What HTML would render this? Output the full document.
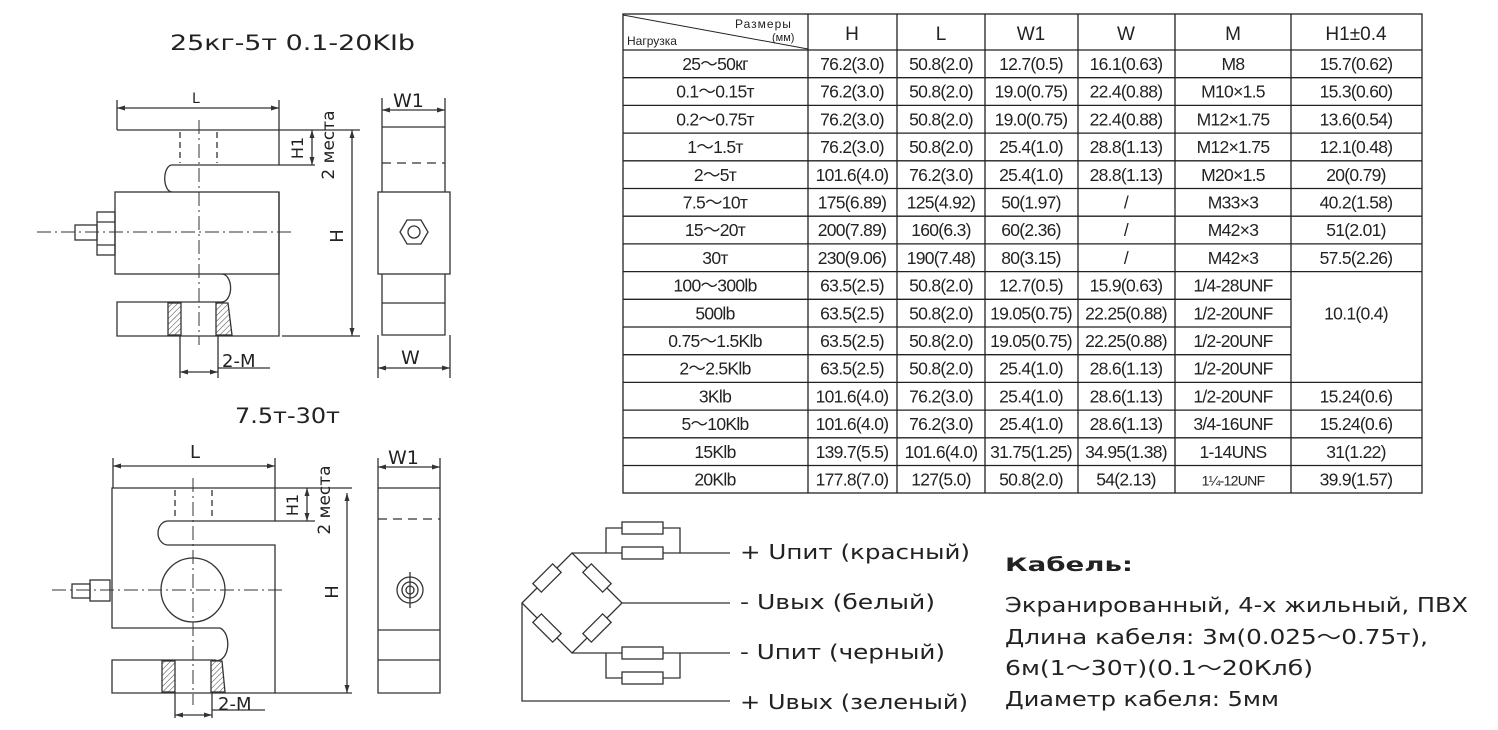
<!DOCTYPE html>
<html><head><meta charset="utf-8"><style>
html,body{margin:0;padding:0;background:#fff;}
svg{display:block;}
text{font-family:"DejaVu Sans","Liberation Sans",sans-serif;fill:#222;}
.t text{font-family:"Liberation Sans","DejaVu Sans",sans-serif;}
</style></head><body>
<svg width="1498" height="730" viewBox="0 0 1498 730" xmlns="http://www.w3.org/2000/svg">
<defs>
<pattern id="h" width="4" height="4" patternUnits="userSpaceOnUse" patternTransform="rotate(45)"><line x1="0" y1="0" x2="0" y2="4" stroke="#444" stroke-width="1"/></pattern>
</defs>
<g stroke="#333" stroke-width="1.3" fill="none">
<path d="M117 130 H279 V165 H172 A7 13 0 0 0 172 192"/>
<rect x="115" y="192" width="164" height="82"/>
<path d="M279 192 V336 H117 V302 H222 A8 13 0 0 0 222 274"/>
<path d="M180 132 V163 M217 132 V163" stroke-dasharray="6 4"/>
<rect x="168" y="303" width="13" height="32" fill="url(#h)"/>
<path d="M216 303 H228 L232 335 H216 Z" fill="url(#h)"/>
<path d="M199 120 V345 M37 232 H292" stroke-dasharray="14 4 2 4" stroke-width="1"/>
<rect x="97" y="212" width="18" height="43"/><path d="M97 222 H115 M97 245 H115"/>
<rect x="75" y="225" width="22" height="15"/>
<path d="M117 100 V130 M279 100 V130 M117 108 H279 M279 130 H360 M279 165 H315 M312 130 V165 M282 336 H360 M352 130 V336"/>
<path d="M180 336 V378 M218 336 V378 M180 372 H218 M218 368 H270"/>
<path d="M382 98 V192 M445 98 V192 M382 110 H445 M382 127 H445"/>
<path d="M382 163 H445" stroke-dasharray="9 6"/>
<rect x="378" y="192" width="72" height="82"/>
<polygon points="428,232 421,244 407,244 400,232 407,220 421,220"/>
<circle cx="414" cy="232" r="6"/>
<path d="M382 274 V335 H445 V274 M382 303 H445 M378 335 V378 M450 335 V378 M378 368 H450"/>
<path d="M112 488 H275 V521 H168 A10 12 0 0 0 168 545 H275 V693 H112 V660 H215 A10 16 0 0 0 220 628 H112 Z"/>
<path d="M175 490 V519 M212 490 V519" stroke-dasharray="6 4"/>
<circle cx="193" cy="590" r="32"/>
<rect x="162" y="661" width="13" height="31" fill="url(#h)"/>
<path d="M211 661 H222 L225 692 H211 Z" fill="url(#h)"/>
<path d="M193 478 V705 M52 590 H282" stroke-dasharray="14 4 2 4" stroke-width="1"/>
<rect x="90" y="580" width="20" height="21"/><rect x="72" y="584" width="18" height="14"/>
<path d="M113 458 V488 M275 458 V488 M113 466 H275 M275 488 H352 M275 521 H315 M307 488 V521 M275 693 H352 M347 493 V693"/>
<path d="M175 693 V718 M212 693 V718 M175 715 H212 M212 710 H265"/>
<path d="M378 458 V693 H440 V458 M378 467 H440 M378 488 H440 M378 630 H440 M378 660 H440"/>
<path d="M378 519 H440" stroke-dasharray="9 6"/>
<circle cx="410" cy="590" r="13"/><circle cx="410" cy="590" r="8"/><circle cx="410" cy="590" r="4"/>
<path d="M410 572 V608"/>
<path d="M522 603 L572 553 L622 603 L572 653 Z M522 603 V701 H730 M572 553 H730 M622 603 H730 M572 653 H730"/>
<path d="M606 553 V528 H680 V553 M606 653 V678 H680 V653"/>
<g fill="#fff">
<rect x="622" y="522" width="41" height="12"/><rect x="622" y="547" width="41" height="12"/>
<rect x="622" y="647" width="41" height="12"/><rect x="622" y="672" width="41" height="12"/>
<rect x="-14" y="-6" width="28" height="12" transform="translate(547 578) rotate(-45)"/>
<rect x="-14" y="-6" width="28" height="12" transform="translate(597 578) rotate(45)"/>
<rect x="-14" y="-6" width="28" height="12" transform="translate(547 628) rotate(45)"/>
<rect x="-14" y="-6" width="28" height="12" transform="translate(597 628) rotate(-45)"/>
</g>
</g>
<g fill="#333">
<path d="M117 108 l8 -2.5 v5z M279 108 l-8 -2.5 v5z M312 130 l-2.5 8 h5z M312 165 l-2.5 -8 h5z M352 130 l-2.5 8 h5z M352 336 l-2.5 -8 h5z M180 372 l8 -2.5 v5z M218 372 l-8 -2.5 v5z M382 110 l8 -2.5 v5z M445 110 l-8 -2.5 v5z M378 368 l8 -2.5 v5z M450 368 l-8 -2.5 v5z"/>
<path d="M113 466 l8 -2.5 v5z M275 466 l-8 -2.5 v5z M307 488 l-2.5 8 h5z M307 521 l-2.5 -8 h5z M347 493 l-2.5 8 h5z M347 693 l-2.5 -8 h5z M175 715 l8 -2.5 v5z M212 715 l-8 -2.5 v5z M378 467 l8 -2.5 v5z M440 467 l-8 -2.5 v5z"/>
</g>
<text x="170" y="50" font-size="21" textLength="245" lengthAdjust="spacingAndGlyphs">25кг-5т  0.1-20KIb</text>
<text x="192" y="103" font-size="14">L</text>
<text x="303" y="148" font-size="16" text-anchor="middle" transform="rotate(-90 303 148)">H1</text>
<text x="334" y="145" font-size="17" text-anchor="middle" transform="rotate(-90 334 145)">2 места</text>
<text x="343" y="236" font-size="18" text-anchor="middle" transform="rotate(-90 343 236)">H</text>
<text x="222" y="367" font-size="18">2-M</text>
<text x="393" y="107" font-size="19">W1</text>
<text x="401" y="364" font-size="19">W</text>
<text x="235" y="423" font-size="21" textLength="105" lengthAdjust="spacingAndGlyphs">7.5т-30т</text>
<text x="190" y="458" font-size="18">L</text>
<text x="298" y="505" font-size="16" text-anchor="middle" transform="rotate(-90 298 505)">H1</text>
<text x="330" y="500" font-size="17" text-anchor="middle" transform="rotate(-90 330 500)">2 места</text>
<text x="338" y="592" font-size="18" text-anchor="middle" transform="rotate(-90 338 592)">H</text>
<text x="218" y="710" font-size="18">2-M</text>
<text x="388" y="464" font-size="19">W1</text>
<g font-size="20">
<text x="740" y="559" textLength="230" lengthAdjust="spacingAndGlyphs">+  Uпит (красный)</text>
<text x="740" y="609" textLength="195" lengthAdjust="spacingAndGlyphs">-  Uвых (белый)</text>
<text x="740" y="659" textLength="205" lengthAdjust="spacingAndGlyphs">-  Uпит (черный)</text>
<text x="740" y="709" textLength="228" lengthAdjust="spacingAndGlyphs">+  Uвых (зеленый)</text>
</g>
<text x="1005" y="571" font-size="19" font-weight="bold" textLength="128" lengthAdjust="spacingAndGlyphs">Кабель:</text>
<g font-size="20">
<text x="1005" y="612" textLength="463" lengthAdjust="spacingAndGlyphs">Экранированный, 4-х жильный, ПВХ</text>
<text x="1005" y="644" textLength="423" lengthAdjust="spacingAndGlyphs">Длина кабеля: 3м(0.025～0.75т),</text>
<text x="1005" y="675" textLength="308" lengthAdjust="spacingAndGlyphs">6м(1～30т)(0.1～20Клб)</text>
<text x="1005" y="706" textLength="274" lengthAdjust="spacingAndGlyphs">Диаметр кабеля: 5мм</text>
</g>
<g stroke="#222" stroke-width="1.3" fill="none">
<rect x="623" y="14" width="799" height="479"/>
<path d="M808 14 V493 M897 14 V493 M985 14 V493 M1078 14 V493 M1175 14 V493 M1291 14 V493"/>
<path d="M623 50 H1422 M623 77.7 H1422 M623 105.4 H1422 M623 133.1 H1422 M623 160.8 H1422 M623 188.5 H1422 M623 216.2 H1422 M623 243.9 H1422 M623 271.6 H1422 M623 299.3 H1291 M623 327 H1291 M623 354.7 H1291 M623 382.4 H1422 M623 410.1 H1422 M623 437.8 H1422 M623 465.5 H1422"/>
<path d="M623 15 L808 49" stroke-width="1"/>
</g>
<g class="t">
<text x="735" y="28" font-size="12" letter-spacing="1">Размеры</text>
<text x="772" y="41" font-size="11">(мм)</text>
<text x="627" y="45" font-size="12">Нагрузка</text>
<g font-size="19" text-anchor="middle">
<text x="852" y="40">H</text><text x="941" y="40">L</text><text x="1031" y="40">W1</text><text x="1126" y="40">W</text><text x="1233" y="40">M</text><text x="1356" y="40">H1±0.4</text>
</g>
<g font-size="17.5" text-anchor="middle" letter-spacing="-0.7">
<text y="70"><tspan x="715">25～50кг</tspan><tspan x="852">76.2(3.0)</tspan><tspan x="941">50.8(2.0)</tspan><tspan x="1031">12.7(0.5)</tspan><tspan x="1126">16.1(0.63)</tspan><tspan x="1233">M8</tspan><tspan x="1356">15.7(0.62)</tspan></text>
<text y="97.7"><tspan x="715">0.1～0.15т</tspan><tspan x="852">76.2(3.0)</tspan><tspan x="941">50.8(2.0)</tspan><tspan x="1031">19.0(0.75)</tspan><tspan x="1126">22.4(0.88)</tspan><tspan x="1233">M10×1.5</tspan><tspan x="1356">15.3(0.60)</tspan></text>
<text y="125.4"><tspan x="715">0.2～0.75т</tspan><tspan x="852">76.2(3.0)</tspan><tspan x="941">50.8(2.0)</tspan><tspan x="1031">19.0(0.75)</tspan><tspan x="1126">22.4(0.88)</tspan><tspan x="1233">M12×1.75</tspan><tspan x="1356">13.6(0.54)</tspan></text>
<text y="153.1"><tspan x="715">1～1.5т</tspan><tspan x="852">76.2(3.0)</tspan><tspan x="941">50.8(2.0)</tspan><tspan x="1031">25.4(1.0)</tspan><tspan x="1126">28.8(1.13)</tspan><tspan x="1233">M12×1.75</tspan><tspan x="1356">12.1(0.48)</tspan></text>
<text y="180.8"><tspan x="715">2～5т</tspan><tspan x="852">101.6(4.0)</tspan><tspan x="941">76.2(3.0)</tspan><tspan x="1031">25.4(1.0)</tspan><tspan x="1126">28.8(1.13)</tspan><tspan x="1233">M20×1.5</tspan><tspan x="1356">20(0.79)</tspan></text>
<text y="208.5"><tspan x="715">7.5～10т</tspan><tspan x="852">175(6.89)</tspan><tspan x="941">125(4.92)</tspan><tspan x="1031">50(1.97)</tspan><tspan x="1126">/</tspan><tspan x="1233">M33×3</tspan><tspan x="1356">40.2(1.58)</tspan></text>
<text y="236.2"><tspan x="715">15～20т</tspan><tspan x="852">200(7.89)</tspan><tspan x="941">160(6.3)</tspan><tspan x="1031">60(2.36)</tspan><tspan x="1126">/</tspan><tspan x="1233">M42×3</tspan><tspan x="1356">51(2.01)</tspan></text>
<text y="263.9"><tspan x="715">30т</tspan><tspan x="852">230(9.06)</tspan><tspan x="941">190(7.48)</tspan><tspan x="1031">80(3.15)</tspan><tspan x="1126">/</tspan><tspan x="1233">M42×3</tspan><tspan x="1356">57.5(2.26)</tspan></text>
<text y="291.6"><tspan x="715">100～300lb</tspan><tspan x="852">63.5(2.5)</tspan><tspan x="941">50.8(2.0)</tspan><tspan x="1031">12.7(0.5)</tspan><tspan x="1126">15.9(0.63)</tspan><tspan x="1233">1/4-28UNF</tspan></text>
<text y="319.3"><tspan x="715">500lb</tspan><tspan x="852">63.5(2.5)</tspan><tspan x="941">50.8(2.0)</tspan><tspan x="1031">19.05(0.75)</tspan><tspan x="1126">22.25(0.88)</tspan><tspan x="1233">1/2-20UNF</tspan><tspan x="1356">10.1(0.4)</tspan></text>
<text y="347"><tspan x="715">0.75～1.5Klb</tspan><tspan x="852">63.5(2.5)</tspan><tspan x="941">50.8(2.0)</tspan><tspan x="1031">19.05(0.75)</tspan><tspan x="1126">22.25(0.88)</tspan><tspan x="1233">1/2-20UNF</tspan></text>
<text y="374.7"><tspan x="715">2～2.5Klb</tspan><tspan x="852">63.5(2.5)</tspan><tspan x="941">50.8(2.0)</tspan><tspan x="1031">25.4(1.0)</tspan><tspan x="1126">28.6(1.13)</tspan><tspan x="1233">1/2-20UNF</tspan></text>
<text y="402.4"><tspan x="715">3Klb</tspan><tspan x="852">101.6(4.0)</tspan><tspan x="941">76.2(3.0)</tspan><tspan x="1031">25.4(1.0)</tspan><tspan x="1126">28.6(1.13)</tspan><tspan x="1233">1/2-20UNF</tspan><tspan x="1356">15.24(0.6)</tspan></text>
<text y="430.1"><tspan x="715">5～10Klb</tspan><tspan x="852">101.6(4.0)</tspan><tspan x="941">76.2(3.0)</tspan><tspan x="1031">25.4(1.0)</tspan><tspan x="1126">28.6(1.13)</tspan><tspan x="1233">3/4-16UNF</tspan><tspan x="1356">15.24(0.6)</tspan></text>
<text y="457.8"><tspan x="715">15Klb</tspan><tspan x="852">139.7(5.5)</tspan><tspan x="941">101.6(4.0)</tspan><tspan x="1031">31.75(1.25)</tspan><tspan x="1126">34.95(1.38)</tspan><tspan x="1233">1-14UNS</tspan><tspan x="1356">31(1.22)</tspan></text>
<text y="485.5"><tspan x="715">20Klb</tspan><tspan x="852">177.8(7.0)</tspan><tspan x="941">127(5.0)</tspan><tspan x="1031">50.8(2.0)</tspan><tspan x="1126">54(2.13)</tspan><tspan x="1233" font-size="14">1¼-12UNF</tspan><tspan x="1356">39.9(1.57)</tspan></text>
</g>
</g>
</svg>
</body></html>
